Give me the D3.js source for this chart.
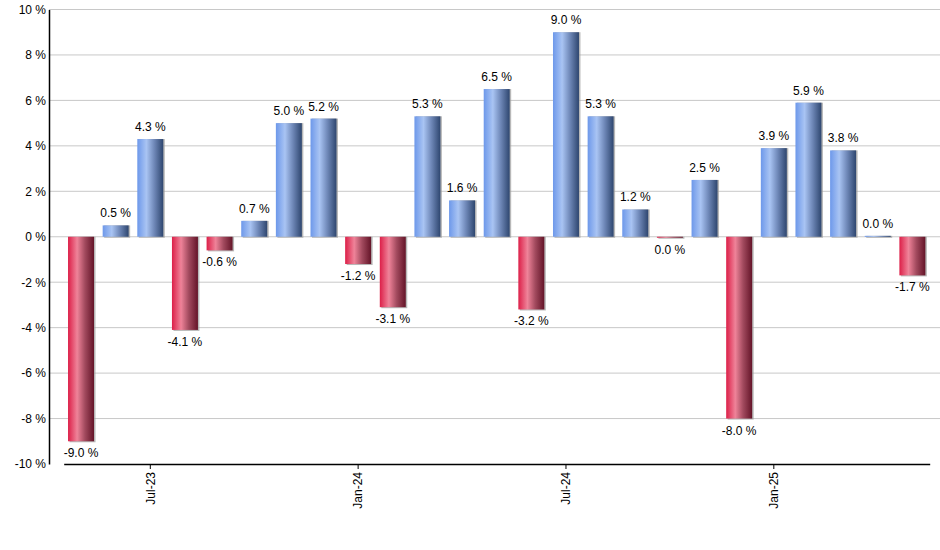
<!DOCTYPE html>
<html>
<head>
<meta charset="utf-8">
<script src="https://cdn.jsdelivr.net/npm/d3@7"></script>
<style>
  body { margin: 0; background: #fff; }
  svg { display: block; font-family: "Liberation Sans", Arial, sans-serif; }
</style>
</head>
<body>
<svg id="drawing_region"></svg>
<script>
// monthly returns, May-23 .. May-25
const months = ["May-23","Jun-23","Jul-23","Aug-23","Sep-23","Oct-23","Nov-23","Dec-23",
                "Jan-24","Feb-24","Mar-24","Apr-24","May-24","Jun-24","Jul-24","Aug-24",
                "Sep-24","Oct-24","Nov-24","Dec-24","Jan-25","Feb-25","Mar-25","Apr-25","May-25"];
const values = [-9.0, 0.5, 4.3, -4.1, -0.6, 0.7, 5.0, 5.2,
                -1.2, -3.1, 5.3, 1.6, 6.5, -3.2, 9.0, 5.3,
                1.2, -0.04, 2.5, -8.0, 3.9, 5.9, 3.8, 0.04, -1.7];
const xTickLabels = ["Jul-23", "Jan-24", "Jul-24", "Jan-25"];
const yTicks = [-10, -8, -6, -4, -2, 0, 2, 4, 6, 8, 10];

const data = months.map((m, i) => ({ month: m, value: values[i] }));

const config = {
    width: 940,
    height: 550,
    margin: {top: 9.5, right: 0, bottom: 86, left: 49}
};

const svg = d3.select('#drawing_region')
    .attr('width', config.width)
    .attr('height', config.height);

const inner_width = config.width - config.margin.left - config.margin.right;
const inner_height = config.height - config.margin.top - config.margin.bottom;

const defs = svg.append('defs');
function gradient(id, stops) {
    const g = defs.append('linearGradient')
        .attr('id', id)
        .attr('x1', '0%').attr('x2', '100%')
        .attr('y1', '0%').attr('y2', '0%');
    stops.forEach(s => g.append('stop').attr('offset', s[0]).attr('stop-color', s[1]));
}
gradient('blueGrad', [["0%", "#6d98ea"], ["35%", "#a9c4f3"], ["65%", "#6f88b8"], ["100%", "#2e466f"]]);
gradient('redGrad', [["0%", "#dc1f48"], ["35%", "#ef8399"], ["65%", "#a24a5e"], ["100%", "#641428"]]);

const chart = svg.append('g')
    .attr('transform', `translate(${config.margin.left}, ${config.margin.top})`);

const xscale = d3.scaleBand()
    .domain(months)
    .range([14.7, 880.7])
    .paddingInner(0.25)
    .paddingOuter(0.125);

const yscale = d3.scaleLinear()
    .domain([-10, 10])
    .range([inner_height, 0]);

// gridlines
chart.append('g')
    .selectAll('line')
    .data(yTicks.filter(t => t > -10))
    .join('line')
    .attr('x1', 0)
    .attr('x2', inner_width)
    .attr('y1', d => yscale(d))
    .attr('y2', d => yscale(d))
    .attr('stroke', '#c8c8c8')
    .attr('stroke-width', 1);

// y axis labels
const yaxis = d3.axisLeft(yscale)
    .tickValues(yTicks)
    .tickSize(0)
    .tickPadding(3)
    .tickFormat(d => `${d} %`);

const yaxis_group = chart.append('g').call(yaxis);
yaxis_group.select('.domain').attr('stroke', '#000').attr('stroke-width', 1.5);
yaxis_group.selectAll('text')
    .attr('font-size', '12px')
    .attr('fill', '#000')
    .attr('font-family', '"Liberation Sans", Arial, sans-serif');

// bars
const bar_group = chart.append('g');
const y0 = yscale(0);

bar_group.selectAll('rect.shadow')
    .data(data)
    .join('rect')
    .attr('class', 'shadow')
    .attr('x', d => xscale(d.month) + 1.5)
    .attr('y', d => Math.min(yscale(d.value), y0))
    .attr('width', xscale.bandwidth())
    .attr('height', d => Math.max(Math.abs(yscale(d.value) - y0), 1) + 1)
    .attr('fill', '#9a9a9a')
    .attr('opacity', 0.7);

bar_group.selectAll('rect.bar')
    .data(data)
    .join('rect')
    .attr('class', 'bar')
    .attr('x', d => xscale(d.month))
    .attr('y', d => Math.min(yscale(d.value), y0))
    .attr('width', xscale.bandwidth())
    .attr('height', d => Math.max(Math.abs(yscale(d.value) - y0), 1))
    .attr('fill', d => d.value >= 0 ? 'url(#blueGrad)' : 'url(#redGrad)');

// value labels
const fmt = v => {
    const s = Math.abs(v).toFixed(1);
    return (v < 0 && s !== '0.0' ? '-' : '') + s + ' %';
};

chart.append('g')
    .selectAll('text')
    .data(data)
    .join('text')
    .attr('x', d => xscale(d.month) + xscale.bandwidth() / 2)
    .attr('y', d => d.value >= 0 ? yscale(d.value) - 8 : yscale(d.value) + 16)
    .attr('text-anchor', 'middle')
    .attr('font-size', '12px')
    .attr('fill', '#000')
    .text(d => fmt(d.value));

// x axis
const xaxis = d3.axisBottom(xscale)
    .tickValues(xTickLabels)
    .tickSize(5)
    .tickSizeOuter(0);

const xaxis_group = chart.append('g')
    .attr('transform', `translate(0, ${inner_height})`)
    .call(xaxis);
xaxis_group.select('.domain').attr('stroke', '#000').attr('stroke-width', 1.5);
xaxis_group.selectAll('.tick line').attr('stroke', '#000');
xaxis_group.selectAll('text')
    .attr('font-size', '12px')
    .attr('fill', '#000')
    .attr('font-family', '"Liberation Sans", Arial, sans-serif')
    .attr('transform', 'rotate(-90)')
    .attr('text-anchor', 'end')
    .attr('x', -8)
    .attr('y', 0)
    .attr('dy', '0.35em');
</script>
</body>
</html>
